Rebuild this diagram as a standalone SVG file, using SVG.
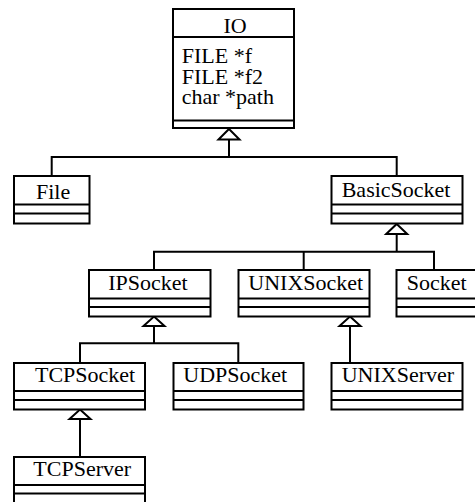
<svg xmlns="http://www.w3.org/2000/svg" width="475" height="502" viewBox="0 0 475 502">
  <style>
    .box { fill: #ffffff; stroke: #000000; stroke-width: 2; }
    .sep { stroke: #000000; stroke-width: 2; }
    text { font-family: 'Liberation Serif', 'Times New Roman', Times, serif; font-size: 22px; fill: #000000; }
    .link { fill: none; stroke: #000000; stroke-width: 2; }
    .gen { fill: #ffffff; stroke: #000000; stroke-width: 2; stroke-linejoin: miter; }
  </style>
  <rect width="475" height="502" fill="#ffffff"/>

  <!-- generalization connectors -->
  <g id="connectors">
    <!-- File, BasicSocket -> IO -->
    <polyline class="link" points="229,139.5 229,157"/>
    <polyline class="link" points="51.7,176 51.7,157 396.7,157 396.7,176"/>
    <polygon class="gen" points="229,129 239.5,139.5 218.5,139.5"/>
    <!-- IPSocket, UNIXSocket, Socket -> BasicSocket -->
    <polyline class="link" points="396.7,234 396.7,251.7"/>
    <polyline class="link" points="154,270 154,251.7 434,251.7 434,270"/>
    <polyline class="link" points="303.7,251.7 303.7,270"/>
    <polygon class="gen" points="396.7,224 407.2,234 386.2,234"/>
    <!-- TCPSocket, UDPSocket -> IPSocket -->
    <polyline class="link" points="154,326 154,343.3"/>
    <polyline class="link" points="80,363 80,343.3 238.3,343.3 238.3,363"/>
    <polygon class="gen" points="154,316.5 164.5,326 143.5,326"/>
    <!-- UNIXServer -> UNIXSocket -->
    <polyline class="link" points="350,326 350,363"/>
    <polygon class="gen" points="350,316.5 360.5,326 339.5,326"/>
    <!-- TCPServer -> TCPSocket -->
    <polyline class="link" points="80,419 80,457"/>
    <polygon class="gen" points="80,409.5 90.5,419 69.5,419"/>
  </g>

  <g id="IO">
    <rect class="box" x="173" y="9" width="121" height="119"/>
    <line class="sep" x1="173" y1="37" x2="294" y2="37"/>
    <line class="sep" x1="173" y1="120.5" x2="294" y2="120.5"/>
    <text x="223.5" y="32.7">IO</text>
    <text x="181.7" y="63.3">FILE *f</text>
    <text x="181.7" y="83.5">FILE *f2</text>
    <text x="181.7" y="104">char *path</text>
  </g>

  <g id="File">
    <rect class="box" x="14" y="176" width="75.5" height="47.5"/>
    <line class="sep" x1="14" y1="204.5" x2="89.5" y2="204.5"/>
    <line class="sep" x1="14" y1="213.5" x2="89.5" y2="213.5"/>
    <text x="36" y="199.3">File</text>
  </g>

  <g id="BasicSocket">
    <rect class="box" x="331.5" y="176" width="131" height="47.5"/>
    <line class="sep" x1="331.5" y1="204.5" x2="462.5" y2="204.5"/>
    <line class="sep" x1="331.5" y1="213.5" x2="462.5" y2="213.5"/>
    <text x="341.7" y="197">BasicSocket</text>
  </g>

  <g id="IPSocket">
    <rect class="box" x="89" y="270" width="121.5" height="46.5"/>
    <line class="sep" x1="89" y1="298.5" x2="210.5" y2="298.5"/>
    <line class="sep" x1="89" y1="307" x2="210.5" y2="307"/>
    <text x="108.3" y="290">IPSocket</text>
  </g>

  <g id="UNIXSocket">
    <rect class="box" x="238.5" y="270" width="131" height="46.5"/>
    <line class="sep" x1="238.5" y1="298.5" x2="369.5" y2="298.5"/>
    <line class="sep" x1="238.5" y1="307" x2="369.5" y2="307"/>
    <text x="248.3" y="290">UNIXSocket</text>
  </g>

  <g id="Socket">
    <rect class="box" x="396.5" y="270" width="90" height="46.5"/>
    <line class="sep" x1="396.5" y1="298.5" x2="486.5" y2="298.5"/>
    <line class="sep" x1="396.5" y1="307" x2="486.5" y2="307"/>
    <text x="406.7" y="290">Socket</text>
  </g>

  <g id="TCPSocket">
    <rect class="box" x="14" y="363" width="131" height="46.5"/>
    <line class="sep" x1="14" y1="391" x2="145" y2="391"/>
    <line class="sep" x1="14" y1="400" x2="145" y2="400"/>
    <text x="35" y="381.7">TCPSocket</text>
  </g>

  <g id="UDPSocket">
    <rect class="box" x="173.5" y="363" width="130" height="46.5"/>
    <line class="sep" x1="173.5" y1="391" x2="303.5" y2="391"/>
    <line class="sep" x1="173.5" y1="400" x2="303.5" y2="400"/>
    <text x="183.3" y="381.7">UDPSocket</text>
  </g>

  <g id="UNIXServer">
    <rect class="box" x="331.5" y="363" width="131" height="46.5"/>
    <line class="sep" x1="331.5" y1="391" x2="462.5" y2="391"/>
    <line class="sep" x1="331.5" y1="400" x2="462.5" y2="400"/>
    <text x="341.7" y="381.7">UNIXServer</text>
  </g>

  <g id="TCPServer">
    <rect class="box" x="14" y="457" width="131" height="50"/>
    <line class="sep" x1="14" y1="485" x2="145" y2="485"/>
    <line class="sep" x1="14" y1="493.5" x2="145" y2="493.5"/>
    <text x="33.3" y="475.5">TCPServer</text>
  </g>
</svg>
